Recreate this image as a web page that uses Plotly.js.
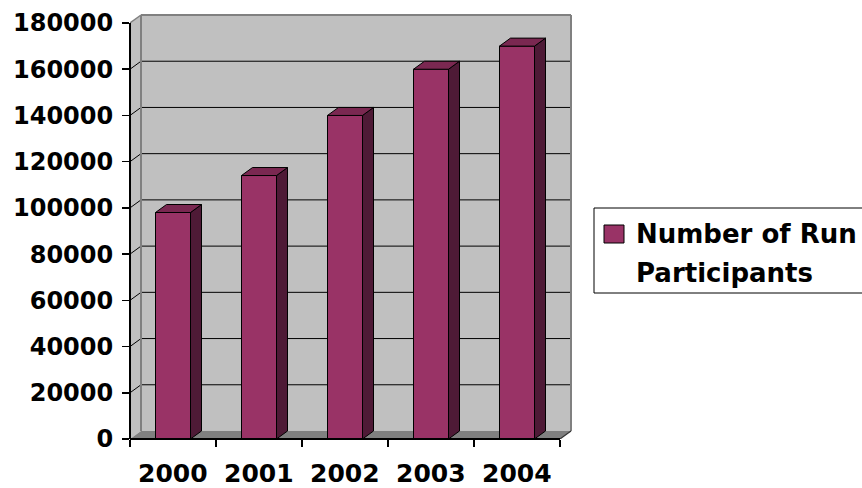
<!DOCTYPE html>
<html>
<head>
<meta charset="utf-8">
<script src="https://cdn.plot.ly/plotly-3.0.1.min.js"></script>
<style>
  html, body { margin: 0; padding: 0; background: #ffffff; }
  #chart { width: 862px; height: 488px; }
</style>
</head>
<body>
<div id="chart"></div>
<script>
// Run participants per year, drawn as a 3-D style column chart
const years = ['2000', '2001', '2002', '2003', '2004'];
const participants = [98000, 114000, 140000, 160000, 170000];
const yTicks = [0, 20000, 40000, 60000, 80000, 100000, 120000, 140000, 160000, 180000];
const seriesName = ['Number of Run', 'Participants'];

// ---- geometry (pixels) ----
const W = 862, H = 488;
const M = { l: 130, r: 290, t: 13, b: 49 };
const plotW = W - M.l - M.r;
const plotH = H - M.t - M.b;
const pxPerCat = 86;
const yTop = yTicks[yTicks.length - 1];
const pxPerUnitY = 416 / yTop;
const depthPx = { x: 11, y: 8 };
const dx = depthPx.x / pxPerCat;
const dy = depthPx.y / pxPerUnitY;
const xMin = -0.5;
const xMax = xMin + plotW / pxPerCat;
const yMax = plotH / pxPerUnitY;
const nCat = years.length;
const xEnd = nCat - 0.5;
const barW = 35 / pxPerCat;

// ---- colours ----
const C = {
  wall: '#c0c0c0', wallEdge: '#808080', floor: '#808080',
  front: '#993366', side: '#4e1a36', top: '#7a2851', ink: '#000000'
};
const FONT = 'DejaVu Sans, Liberation Sans, Arial, sans-serif';

const px2paperX = p => (p - M.l) / plotW;
const px2paperY = p => (H - M.b - p) / plotH;

// ---- walls, floor and gridlines ----
const shapes = [];
const line = (x0, y0, x1, y1, color, width, extra) =>
  Object.assign({ type: 'line', xref: 'x', yref: 'y', x0, y0, x1, y1,
                  line: { color, width }, layer: 'below' }, extra || {});
const path = (pts, fill) => ({
  type: 'path', xref: 'x', yref: 'y', layer: 'below', fillcolor: fill,
  line: { width: 0 },
  path: 'M' + pts.map(p => p[0] + ',' + p[1]).join('L') + 'Z'
});

// back wall
shapes.push(path([[xMin + dx, dy], [xEnd + dx, dy], [xEnd + dx, yTop + dy], [xMin + dx, yTop + dy]], C.wall));
// side wall
shapes.push(path([[xMin, 0], [xMin + dx, dy], [xMin + dx, yTop + dy], [xMin, yTop]], C.wall));
// floor
shapes.push(path([[xMin, 0], [xEnd, 0], [xEnd + dx, dy], [xMin + dx, dy]], C.floor));

// gridlines on back and side walls
yTicks.slice(1, -1).forEach(v => {
  shapes.push(line(xMin + dx, v + dy, xEnd + dx, v + dy, C.ink, 1));
  shapes.push(line(xMin, v, xMin + dx, v + dy, C.ink, 1));
});

// wall edges
shapes.push(line(xMin + dx, dy, xMin + dx, yTop + dy, C.wallEdge, 2));
shapes.push(line(xMin + dx, yTop + dy, xEnd + dx, yTop + dy, C.wallEdge, 2));
shapes.push(line(xEnd + dx, dy, xEnd + dx, yTop + dy, C.wallEdge, 2));
shapes.push(line(xMin, yTop, xMin + dx, yTop + dy, C.wallEdge, 1.5));
shapes.push(line(xEnd, 0, xEnd + dx, dy, '#333333', 1.2, { layer: 'above' }));

// axis lines
shapes.push({ type: 'line', xref: 'paper', yref: 'y', x0: 0, x1: 0, y0: 0, y1: yTop,
              line: { color: C.ink, width: 2 }, layer: 'above' });
shapes.push({ type: 'line', xref: 'x', yref: 'paper', x0: xMin, x1: xEnd, y0: 0, y1: 0,
              line: { color: C.ink, width: 2 }, layer: 'above' });

// ---- bars: front faces, side faces, top faces ----
const idx = years.map((_, i) => i);
const sideX = [], sideY = [], topX = [], topY = [];
idx.forEach(i => {
  const v = participants[i];
  const l = i - barW / 2, r = i + barW / 2;
  sideX.push(r, r + dx, r + dx, r, r, null);
  sideY.push(0, dy, v + dy, v, 0, null);
  topX.push(l, r, r + dx, l + dx, l, null);
  topY.push(v, v, v + dy, v + dy, v, null);
});

const traces = [
  {
    type: 'bar', x: idx, y: participants, width: barW,
    marker: { color: C.front, line: { color: C.ink, width: 1 } },
    hoverinfo: 'skip', showlegend: false
  },
  {
    type: 'scatter', mode: 'lines', x: sideX, y: sideY, fill: 'toself',
    fillcolor: C.side, line: { color: C.ink, width: 1 },
    hoverinfo: 'skip', showlegend: false
  },
  {
    type: 'scatter', mode: 'lines', x: topX, y: topY, fill: 'toself',
    fillcolor: C.top, line: { color: C.ink, width: 1 },
    hoverinfo: 'skip', showlegend: false
  }
];

// ---- category labels ----
const annotations = years.map((t, i) => ({
  x: i, y: 0, xref: 'x', yref: 'paper', yanchor: 'top', xanchor: 'center',
  yshift: -18, text: t, showarrow: false,
  font: { family: FONT, size: 25, color: C.ink, weight: 'bold' }
}));

// ---- legend box ----
shapes.push({ type: 'rect', xref: 'paper', yref: 'paper',
  x0: px2paperX(594), x1: px2paperX(900), y0: px2paperY(293), y1: px2paperY(208),
  fillcolor: '#ffffff', line: { color: C.ink, width: 1 }, layer: 'above' });
shapes.push({ type: 'rect', xref: 'paper', yref: 'paper',
  x0: px2paperX(604), x1: px2paperX(624), y0: px2paperY(243), y1: px2paperY(225),
  fillcolor: C.front, line: { color: C.ink, width: 1 }, layer: 'above' });
[234, 273].forEach((cy, k) => annotations.push({
  x: px2paperX(634), y: px2paperY(cy), xref: 'paper', yref: 'paper',
  xanchor: 'left', yanchor: 'middle', text: seriesName[k], showarrow: false,
  font: { family: FONT, size: 26, color: C.ink, weight: 'bold' }
}));

const layout = {
  width: W, height: H,
  margin: M,
  paper_bgcolor: '#ffffff', plot_bgcolor: '#ffffff',
  showlegend: false,
  xaxis: {
    range: [xMin, xMax], tickmode: 'array',
    tickvals: Array.from({ length: nCat + 1 }, (_, k) => k - 0.5),
    ticktext: Array.from({ length: nCat + 1 }, () => ''),
    ticks: 'outside', ticklen: 7, tickwidth: 1.5, tickcolor: C.ink,
    showgrid: false, zeroline: false, showline: false, fixedrange: true
  },
  yaxis: {
    range: [0, yMax], tickmode: 'array', tickvals: yTicks,
    ticktext: yTicks.map(String),
    ticks: 'outside', ticklen: 7, tickwidth: 1.5, tickcolor: C.ink,
    ticklabelstandoff: 4,
    tickfont: { family: FONT, size: 24, color: C.ink, weight: 'bold' },
    showgrid: false, zeroline: false, showline: false, fixedrange: true
  },
  shapes, annotations
};

Plotly.newPlot('chart', traces, layout, { staticPlot: true, displayModeBar: false });
</script>
</body>
</html>
